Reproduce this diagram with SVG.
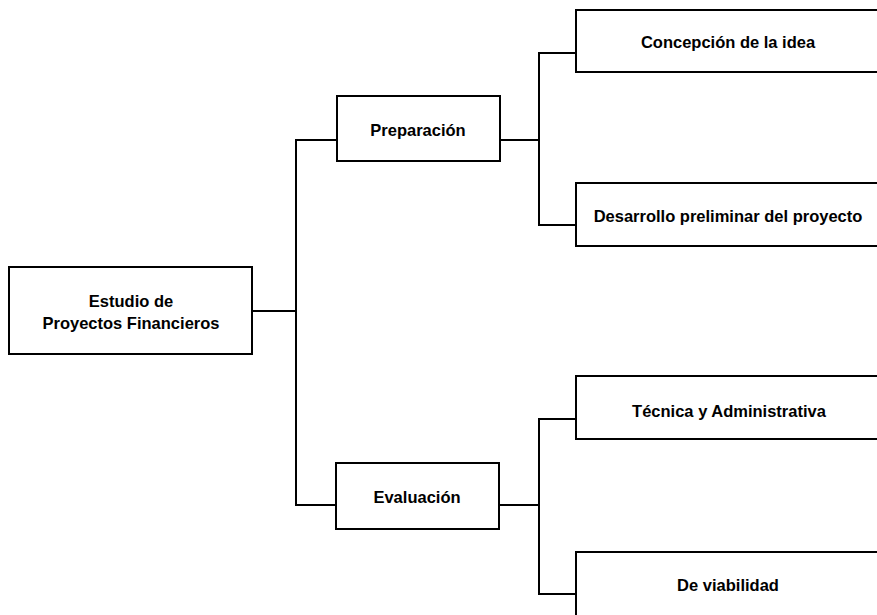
<svg xmlns="http://www.w3.org/2000/svg" width="877" height="615" viewBox="0 0 877 615">
<style>
.box{fill:#fff;stroke:#000;stroke-width:2}
.ln{fill:none;stroke:#000;stroke-width:2}
text{font-family:"Liberation Sans",Arial,sans-serif;font-weight:bold;font-size:16.5px;fill:#000;text-anchor:middle}
</style>
<rect width="877" height="615" fill="#fff"/>
<g id="connectors">
<polyline class="ln" points="252,311 296,311"/>
<polyline class="ln" points="337,140 296,140 296,505 336,505"/>
<polyline class="ln" points="500,140 539,140"/>
<polyline class="ln" points="576,53 539,53 539,225 576,225"/>
<polyline class="ln" points="499,505 539,505"/>
<polyline class="ln" points="576,419 539,419 539,594 576,594"/>
</g>
<g id="estudio">
<rect class="box" x="9" y="267" width="243" height="87"/>
<text x="131" y="307">Estudio de</text>
<text x="131" y="329">Proyectos Financieros</text>
</g>
<g id="preparacion">
<rect class="box" x="337" y="96" width="163" height="65"/>
<text x="418" y="136">Preparación</text>
</g>
<g id="evaluacion">
<rect class="box" x="336" y="463" width="163" height="66"/>
<text x="417" y="503">Evaluación</text>
</g>
<g id="concepcion">
<rect class="box" x="576" y="10" width="320" height="62"/>
<text x="728" y="48">Concepción de la idea</text>
</g>
<g id="desarrollo">
<rect class="box" x="576" y="183" width="320" height="63"/>
<text x="728" y="222">Desarrollo preliminar del proyecto</text>
</g>
<g id="tecnica">
<rect class="box" x="576" y="376" width="320" height="63"/>
<text x="729" y="417">Técnica y Administrativa</text>
</g>
<g id="viabilidad">
<rect class="box" x="576" y="552" width="320" height="80"/>
<text x="728" y="591">De viabilidad</text>
</g>
</svg>
